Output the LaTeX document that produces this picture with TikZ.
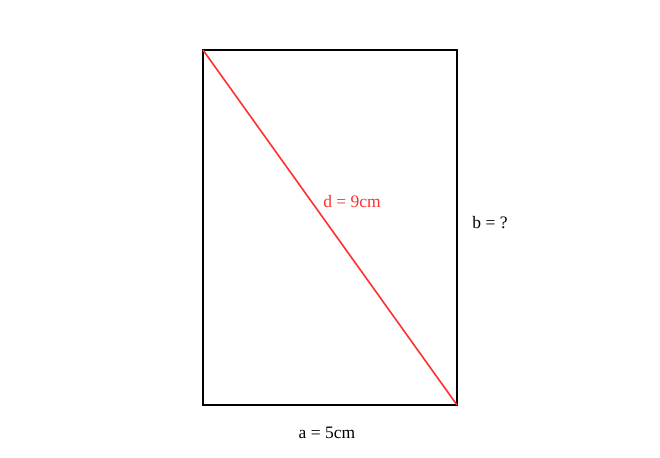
\documentclass[tikz,border=0pt]{standalone}
\usepackage{fontspec}
\setmainfont{Liberation Serif}
\definecolor{diagred}{HTML}{FF3030}
\begin{document}
\begin{tikzpicture}[x=1pt,y=1pt,font=\fontsize{17.5}{20}\selectfont]
   \useasboundingbox (0,0) rectangle (660,457);
   \coordinate (A) at (203,52);
   \coordinate (B) at (457,52);
   \coordinate (C) at (457,407);
   \coordinate (D) at (203,407);
   \draw[line width=1.8pt] (A) -- (B) -- (C) -- (D) -- cycle;
   \draw[diagred,line width=1.6pt] (D) -- (B);

   \node[diagred] (d) at (352,255) {d = 9cm};
   \node (b) at (490,234) {b = ?};
   \node (a) at (327,24) {a = 5cm};
 \end{tikzpicture}
\end{document}
